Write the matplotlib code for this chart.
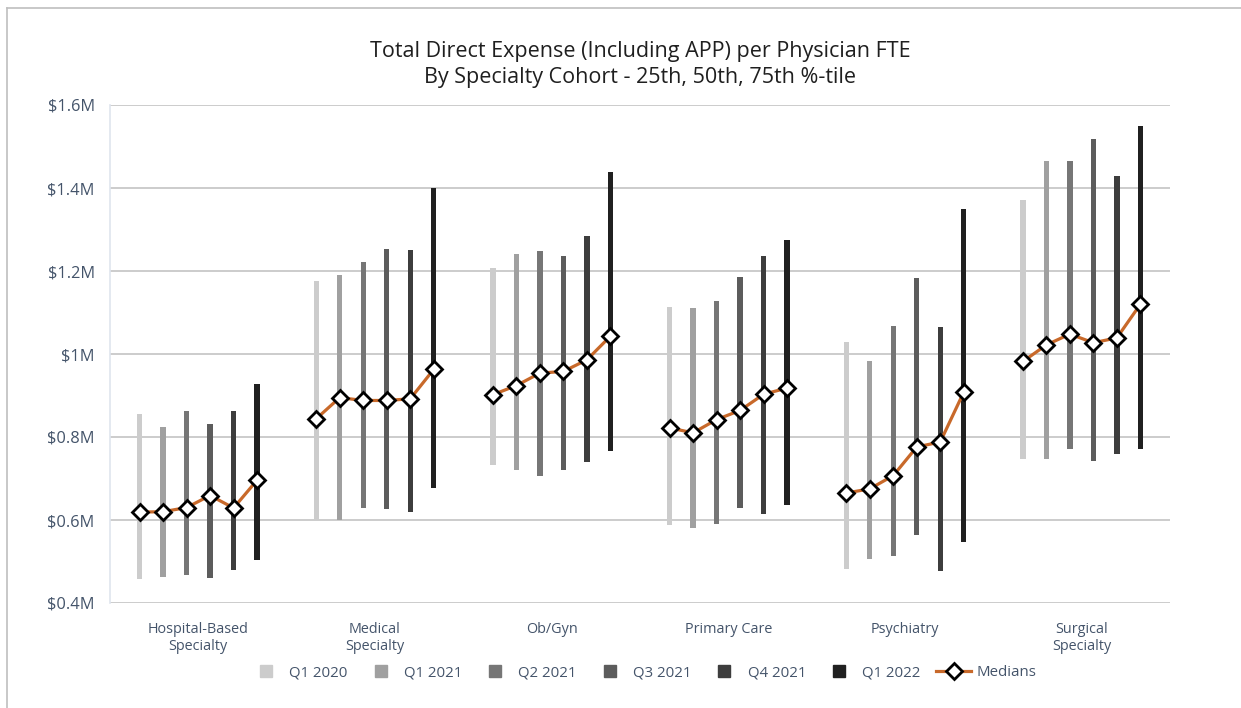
import matplotlib
matplotlib.use("Agg")
import matplotlib.pyplot as plt
from matplotlib.lines import Line2D
import numpy as np

plt.rcParams['font.family'] = ['Open Sans', 'DejaVu Sans']

categories = ["Hospital-Based\nSpecialty", "Medical\nSpecialty", "Ob/Gyn",
              "Primary Care", "Psychiatry", "Surgical\nSpecialty"]
periods = ["Q1 2020", "Q1 2021", "Q2 2021", "Q3 2021", "Q4 2021", "Q1 2022"]

# values in $M; each row is a specialty, columns are periods
p25 = [
    [0.459, 0.463, 0.467, 0.461, 0.479, 0.503],
    [0.600, 0.600, 0.629, 0.627, 0.619, 0.676],
    [0.732, 0.721, 0.705, 0.720, 0.740, 0.767],
    [0.589, 0.580, 0.590, 0.629, 0.615, 0.637],
    [0.481, 0.505, 0.513, 0.563, 0.477, 0.546],
    [0.746, 0.746, 0.770, 0.743, 0.759, 0.771],
]
p50 = [
    [0.619, 0.620, 0.630, 0.659, 0.629, 0.696],
    [0.844, 0.895, 0.888, 0.888, 0.892, 0.963],
    [0.902, 0.924, 0.954, 0.958, 0.986, 1.043],
    [0.822, 0.810, 0.842, 0.864, 0.903, 0.918],
    [0.665, 0.675, 0.707, 0.776, 0.788, 0.908],
    [0.982, 1.022, 1.048, 1.027, 1.039, 1.120],
]
p75 = [
    [0.856, 0.824, 0.862, 0.831, 0.863, 0.928],
    [1.175, 1.191, 1.221, 1.253, 1.251, 1.399],
    [1.207, 1.241, 1.247, 1.235, 1.284, 1.438],
    [1.113, 1.110, 1.127, 1.185, 1.237, 1.275],
    [1.029, 0.983, 1.067, 1.183, 1.065, 1.349],
    [1.372, 1.466, 1.466, 1.517, 1.430, 1.550],
]
y_ticks = [0.4, 0.6, 0.8, 1.0, 1.2, 1.4, 1.6]
y_tick_labels = ["$0.4M", "$0.6M", "$0.8M", "$1M", "$1.2M", "$1.4M", "$1.6M"]

bar_colors = ["#cccccc", "#a0a0a0", "#767676", "#5c5c5c", "#3d3d3d", "#202020"]
line_color = "#c8692a"
text_color = "#44546a"

fig = plt.figure(figsize=(12.41, 7.08), dpi=100)
ax = fig.add_axes([110/1241, 1-603/708, 1060/1241, 498/708])

n_per = len(periods)
step = 0.133
offsets = (np.arange(n_per) - (n_per - 1) / 2) * step
lo = np.array(p25)
hi = np.array(p75)
med = np.array(p50)

for j in range(n_per):
    xs = np.arange(len(categories)) + offsets[j]
    ax.bar(xs, hi[:, j] - lo[:, j], bottom=lo[:, j], width=0.031,
           color=bar_colors[j], zorder=2)

for i in range(len(categories)):
    xs = i + offsets
    ax.plot(xs, med[i], color=line_color, lw=2.3, zorder=3,
            marker='D', markersize=7.8, markerfacecolor='white',
            markeredgecolor='black', markeredgewidth=2.0)

ax.set_xlim(-0.5, len(categories) - 0.5)
ax.set_ylim(0.4, 1.6)
ax.set_yticks(y_ticks)
ax.set_yticklabels(y_tick_labels)
ax.set_xticks(np.arange(len(categories)))
ax.set_xticklabels(categories, linespacing=1.25)
ax.tick_params(axis='both', length=0, labelcolor=text_color)
ax.tick_params(axis='y', pad=11, labelsize=11.8)
ax.tick_params(axis='x', pad=13.5, labelsize=10.4)
ax.yaxis.grid(True, color="#c8c8c8", lw=1.3, zorder=0)
ax.set_axisbelow(True)
for s in ['top', 'right', 'bottom']:
    ax.spines[s].set_visible(False)
ax.spines['left'].set_color("#dfe5ee")
ax.spines['left'].set_linewidth(1.2)

fig.text(0.516, 1-51/708, "Total Direct Expense (Including APP) per Physician FTE",
         ha='center', va='center', fontsize=15.5, color="#1f1f1f")
fig.text(0.516, 1-78/708, "By Specialty Cohort - 25th, 50th, 75th %-tile",
         ha='center', va='center', fontsize=15.5, color="#1f1f1f")

handles = [Line2D([], [], ls='none', marker='s', markersize=8.5,
                  markerfacecolor=c, markeredgecolor=c) for c in bar_colors]
handles.append(Line2D([], [], color=line_color, lw=2.3, marker='D', markersize=7.8,
                      markerfacecolor='white', markeredgecolor='black',
                      markeredgewidth=2.0))
labels = periods + ["Medians"]
leg = fig.legend(handles, labels, loc='center', bbox_to_anchor=(0.518, 1-673/708),
                 ncol=7, frameon=False, fontsize=10.8, handlelength=2.3,
                 handletextpad=0.4, columnspacing=1.05)
for t in leg.get_texts():
    t.set_color(text_color)

# chart border (left and top edges visible)
fig.add_artist(Line2D([7/1241, 7/1241], [0, 1-8/708], transform=fig.transFigure,
                      color="#bfbfbf", lw=1.2))
fig.add_artist(Line2D([7/1241, 1], [1-8/708, 1-8/708], transform=fig.transFigure,
                      color="#bfbfbf", lw=1.2))

fig.savefig("out.png", dpi=100, facecolor='white')
